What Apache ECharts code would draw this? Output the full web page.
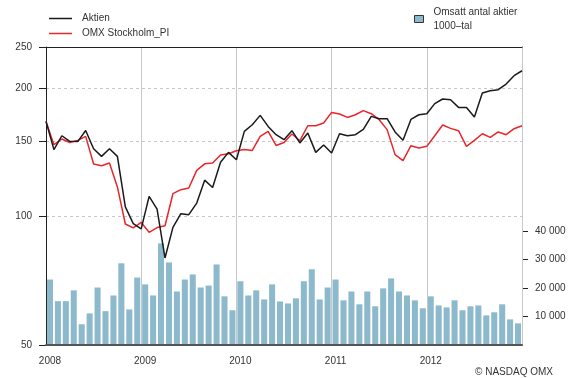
<!DOCTYPE html>
<html>
<head>
<meta charset="utf-8">
<script src="https://cdn.jsdelivr.net/npm/echarts@6/dist/echarts.min.js"></script>
<style>
  html, body { margin: 0; padding: 0; background: #fff; }
  #chart { width: 573px; height: 378px; }
</style>
</head>
<body>
<div id="chart"></div>
<script>
// Monthly turnover bars (one per month, 2008–2012) and month-end index lines
const years = ['2008', '2009', '2010', '2011', '2012'];
const months = [];
years.forEach(function (y) {
  for (let m = 1; m <= 12; m++) months.push(y + '-' + (m < 10 ? '0' : '') + m);
});
const monthEnds = ['2008-01-01'].concat(months.map(function (m) { return m + '-end'; }));

const aktien = [
  167.3, 143.6, 154.8, 150.2, 150.0, 159.3, 144.3, 138.5, 144.3, 138.5,
  105.4, 96.3, 93.6, 111.6, 104.2, 80.0, 94.4, 101.6, 101.1, 107.6,
  121.8, 117.1, 134.1, 141.5, 136.0, 158.5, 164.3, 172.8, 162.8, 155.7,
  151.5, 159.1, 148.9, 157.1, 141.5, 147.3, 141.0, 156.5, 154.8, 155.7,
  160.3, 171.9, 169.7, 169.7, 158.0, 151.0, 169.1, 173.4, 174.4, 184.1,
  188.8, 188.0, 180.4, 180.4, 171.3, 195.0, 197.4, 198.5, 204.7, 214.1, 219.9
];
const omxStockholmPI = [
  167.3, 147.5, 152.1, 149.3, 151.0, 154.3, 132.9, 131.7, 133.6, 117.4,
  96.1, 94.1, 96.9, 91.9, 94.3, 95.2, 113.2, 115.7, 116.7, 128.4,
  133.0, 133.6, 139.5, 140.5, 142.8, 143.8, 143.0, 154.3, 158.5, 146.9,
  149.3, 156.3, 150.7, 163.4, 163.4, 165.8, 175.6, 174.1, 170.9, 173.4,
  177.3, 174.4, 168.8, 160.0, 139.8, 135.3, 146.7, 144.9, 146.2, 154.8,
  164.1, 161.1, 159.1, 146.2, 151.0, 156.5, 153.4, 158.0, 155.7, 160.8, 163.4
];
// Omsatt antal aktier, 1000-tal
const omsattning = [
  23000, 15400, 15400, 19200, 7300, 11100, 20200, 11900, 17400, 28700, 12500, 23700,
  21300, 17400, 35700, 29000, 18800, 23000, 24800, 20200, 20900, 28300, 17100, 12200,
  22400, 17400, 19200, 16000, 21300, 15300, 14600, 16400, 22400, 26600, 16000, 20200,
  23000, 15700, 18800, 14300, 18800, 13600, 19900, 23400, 18800, 17400, 15700, 12900,
  17100, 13900, 13200, 15700, 12200, 13600, 13900, 10400, 11500, 14300, 9000, 7600
];

const indexTicks = [50, 100, 150, 200, 250];
const volumeTicks = [10000, 20000, 30000, 40000];

const FONT = "'Liberation Sans', Arial, sans-serif";
const TEXT = '#333';
const log10 = function (v) { return Math.log(v) / Math.LN10; };

const chart = echarts.init(document.getElementById('chart'), null, { renderer: 'canvas' });

chart.setOption({
  animation: false,
  textStyle: { fontFamily: FONT },
  title: {
    text: '© NASDAQ OMX',
    right: 20,
    top: 367,
    padding: 0,
    textStyle: { fontFamily: FONT, fontSize: 10, fontWeight: 'normal', color: TEXT }
  },
  legend: [
    {
      data: [
        { name: 'Aktien', icon: 'rect' },
        { name: 'OMX Stockholm_PI', icon: 'rect' }
      ],
      orient: 'vertical',
      left: 49,
      top: 12,
      padding: 0,
      itemWidth: 23,
      itemHeight: 1.5,
      itemGap: 2,
      textStyle: { fontFamily: FONT, fontSize: 10, color: TEXT, lineHeight: 13, padding: [0, 0, 0, 5] }
    },
    {
      data: ['Omsatt antal aktier\n1000–tal'],
      left: 414,
      top: 5,
      padding: 0,
      icon: 'rect',
      itemWidth: 9,
      itemHeight: 7,
      itemStyle: { borderColor: '#333', borderWidth: 1 },
      textStyle: { fontFamily: FONT, fontSize: 10, color: TEXT, lineHeight: 14, padding: [0, 0, 0, 5] }
    }
  ],
  grid: { left: 46, right: 51, top: 47, bottom: 33, containLabel: false },
  xAxis: [
    {
      type: 'category',
      data: months,
      boundaryGap: true,
      position: 'bottom',
      z: 3,
      axisLine: { lineStyle: { color: '#555', width: 2 } },
      axisTick: { show: false },
      axisLabel: {
        interval: function (i) { return i % 12 === 0; },
        formatter: function (v) { return v.slice(0, 4); },
        margin: 11,
        fontFamily: FONT, fontSize: 10, color: TEXT
      },
      splitLine: {
        show: true,
        interval: function (i) { return i > 0 && i % 12 === 0; },
        lineStyle: { color: '#c8c8c8', width: 1, type: 'solid' }
      }
    },
    {
      type: 'category',
      data: monthEnds,
      boundaryGap: false,
      position: 'top',
      z: 3,
      axisLine: { lineStyle: { color: '#222', width: 1 } },
      axisTick: { show: false },
      axisLabel: { show: false },
      splitLine: { show: false }
    }
  ],
  yAxis: [
    {
      // index level on a logarithmic scale
      type: 'value',
      position: 'left',
      min: log10(indexTicks[0]),
      max: log10(indexTicks[indexTicks.length - 1]),
      z: 2,
      axisLine: { show: true, lineStyle: { color: '#222', width: 1 } },
      axisTick: {
        show: true, inside: false, length: 7,
        customValues: indexTicks.map(log10),
        lineStyle: { color: '#222' }
      },
      axisLabel: {
        customValues: indexTicks.map(log10),
        formatter: function (v) { return String(Math.round(Math.pow(10, v))); },
        margin: 14,
        fontFamily: FONT, fontSize: 10, color: TEXT
      },
      splitLine: { show: true, lineStyle: { color: '#c8c8c8', width: 1, type: [3, 3] } }
    },
    {
      type: 'value',
      position: 'right',
      min: 0,
      max: 104700,
      z: 2,
      axisLine: { show: true, lineStyle: { color: '#222', width: 1 } },
      axisTick: {
        show: true, inside: false, length: 6,
        customValues: volumeTicks,
        lineStyle: { color: '#222' }
      },
      axisLabel: {
        customValues: volumeTicks,
        formatter: function (v) { return String(v).replace(/\B(?=(\d{3})+(?!\d))/g, ' '); },
        margin: 13,
        fontFamily: FONT, fontSize: 10, color: TEXT
      },
      splitLine: { show: false }
    }
  ],
  series: [
    {
      name: 'Omsatt antal aktier\n1000–tal',
      type: 'bar',
      xAxisIndex: 0,
      yAxisIndex: 1,
      data: omsattning,
      barCategoryGap: '24%',
      itemStyle: { color: '#8db9cc' }
    },
    {
      name: 'Aktien',
      type: 'line',
      xAxisIndex: 1,
      yAxisIndex: 0,
      data: aktien.map(log10),
      symbol: 'none',
      lineStyle: { color: '#1a1a1a', width: 1.5 },
      itemStyle: { color: '#1a1a1a' },
      z: 4
    },
    {
      name: 'OMX Stockholm_PI',
      type: 'line',
      xAxisIndex: 1,
      yAxisIndex: 0,
      data: omxStockholmPI.map(log10),
      symbol: 'none',
      lineStyle: { color: '#e8262b', width: 1.5 },
      itemStyle: { color: '#e8262b' },
      z: 3
    }
  ]
});
</script>
</body>
</html>
